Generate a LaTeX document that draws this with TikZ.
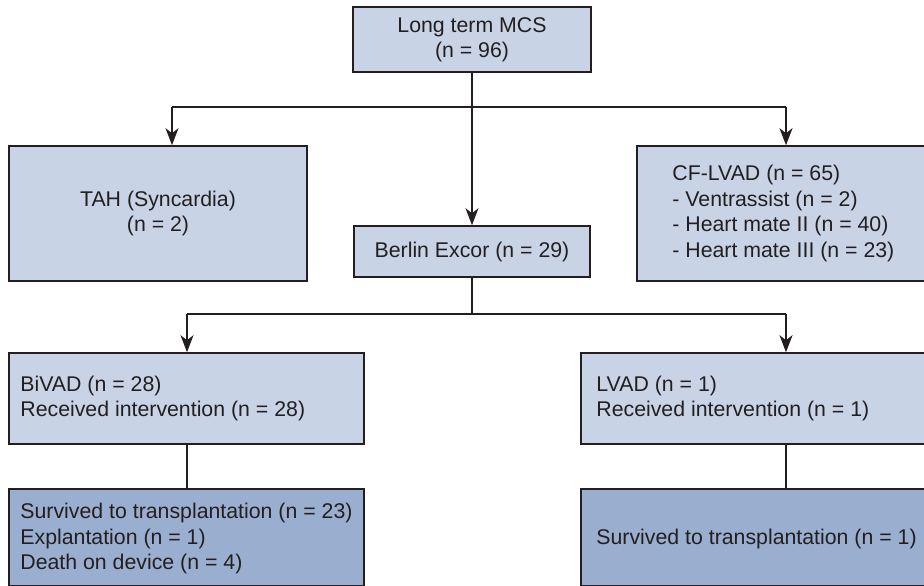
\documentclass[tikz,border=0pt]{standalone}
\usepackage{fontspec}
\setmainfont{Liberation Sans}
\usetikzlibrary{arrows.meta}
\definecolor{boxlight}{RGB}{201,211,230}
\definecolor{boxdark}{RGB}{154,174,207}
\definecolor{ink}{RGB}{35,31,32}
\begin{document}
\begin{tikzpicture}[x=1pt,y=-1pt,
  every node/.style={font=\fontsize{21.3}{25.4}\selectfont, text=ink},
  cbox/.style={draw=ink, line width=1.6pt, fill=boxlight, rectangle, inner sep=0pt, align=center},
  pbox/.style={draw=ink, line width=1.6pt, fill=#1, rectangle, inner sep=0pt},
  btext/.style={anchor=west, inner sep=0pt, align=left},
  conn/.style={draw=ink, line width=1.3pt},
  arr/.style={conn, -{Stealth[length=17pt,width=13pt,inset=5pt]}}
]
\useasboundingbox (0,0) rectangle (924,586);
% boxes
\node[cbox, minimum width=238pt, minimum height=65pt] (top) at (472,39.5) {Long term MCS\\(n = 96)};
\node[cbox, minimum width=298pt, minimum height=135pt] (tah) at (158,213.5) {TAH (Syncardia)\\(n = 2)};
\node[cbox, minimum width=236pt, minimum height=51pt] (berlin) at (472,251.5) {Berlin Excor (n = 29)};
\node[pbox=boxlight, minimum width=291pt, minimum height=135pt] (cf) at (782.5,213.5) {};
\node[pbox=boxlight, minimum width=355pt, minimum height=91pt] (bivad) at (186.5,398.5) {};
\node[pbox=boxlight, minimum width=347pt, minimum height=91pt] (lvad) at (754.5,398.5) {};
\node[pbox=boxdark, minimum width=355pt, minimum height=97pt] (surv1) at (186.5,537.5) {};
\node[pbox=boxdark, minimum width=347pt, minimum height=97pt] (surv2) at (754.5,537.5) {};
% texts of the left-aligned boxes
\node[btext] (cftext) at ([xshift=36pt]cf.west)
  {CF-LVAD (n = 65)\\- Ventrassist (n = 2)\\- Heart mate II (n = 40)\\- Heart mate III (n = 23)};
\node[btext] (bivadtext) at ([xshift=12pt]bivad.west)
  {BiVAD (n = 28)\\Received intervention (n = 28)};
\node[btext] (lvadtext) at ([xshift=16pt]lvad.west)
  {LVAD (n = 1)\\Received intervention (n = 1)};
\node[btext] (surv1text) at ([xshift=12pt,yshift=-1pt]surv1.west)
  {Survived to transplantation (n = 23)\\Explantation (n = 1)\\Death on device (n = 4)};
\node[btext] (surv2text) at ([xshift=16pt,yshift=-1pt]surv2.west)
  {Survived to transplantation (n = 1)};
% junction coordinates
\coordinate (y1) at (0,107);
\coordinate (aL) at (172,107);
\coordinate (aR) at (786,107);
\coordinate (y2) at (0,314);
\coordinate (bL) at (187,314);
\coordinate (bR) at (786,314);
% connectors
\draw[conn] (top.south) -- (top.south |- y1);
\draw[conn] (aL) -- (aR);
\draw[arr] (aL) -- (aL |- tah.north);
\draw[arr] (aR) -- (aR |- cf.north);
\draw[arr] (top.south |- y1) -- (berlin.north);
\draw[conn] (berlin.south) -- (berlin.south |- y2);
\draw[conn] (bL) -- (bR);
\draw[arr] (bL) -- (bL |- bivad.north);
\draw[arr] (bR) -- (bR |- lvad.north);
\draw[conn] (bL |- bivad.south) -- (bL |- surv1.north);
\draw[conn] (bR |- lvad.south) -- (bR |- surv2.north);
\end{tikzpicture}
\end{document}
